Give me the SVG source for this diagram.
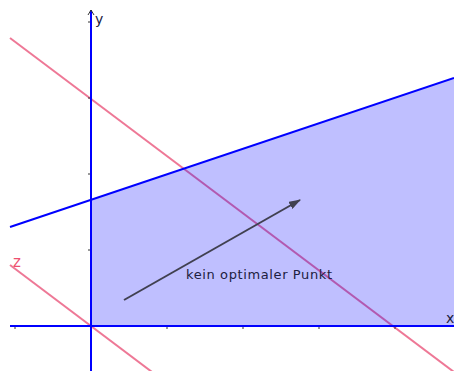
<svg xmlns="http://www.w3.org/2000/svg" width="454" height="371" viewBox="0 0 454 371">
<defs>
<marker id="ah" markerWidth="12" markerHeight="8" refX="11" refY="4" orient="auto" markerUnits="userSpaceOnUse">
<path d="M0,0 L12,4 L0,8 Z" fill="#404050"/>
</marker>
</defs>
<style>
.pink{stroke:#ee7896;stroke-width:2;fill:none}
.blue{stroke:#0000ff;stroke-width:2;fill:none}
.tick{stroke:#333;stroke-width:1}
.lbl{font-family:"DejaVu Sans",sans-serif;font-size:13px;fill:#202040}
</style>
<rect width="454" height="371" fill="#ffffff"/>
<g id="connectors">
<line id="z-line-1" class="pink" x1="10" y1="38" x2="454" y2="372"/>
<line id="z-line-0" class="pink" x1="10" y1="265" x2="152" y2="372"/>
<polygon id="feasible" points="91,326 91,200 454,78 454,326" fill="#0000ff" fill-opacity="0.25"/>
<line id="constraint" class="blue" x1="10" y1="227" x2="454" y2="78"/>
<g id="ticks">
<line class="tick" x1="15" y1="326" x2="15" y2="329"/>
<line class="tick" x1="167" y1="326" x2="167" y2="329"/>
<line class="tick" x1="243" y1="326" x2="243" y2="329"/>
<line class="tick" x1="319" y1="326" x2="319" y2="329"/>
<line class="tick" x1="395" y1="326" x2="395" y2="329"/>
<line class="tick" x1="88" y1="250" x2="91" y2="250"/>
<line class="tick" x1="88" y1="174" x2="91" y2="174"/>
<line class="tick" x1="88" y1="98" x2="91" y2="98"/>
<line class="tick" x1="88" y1="22" x2="91" y2="22"/>
</g>
<line id="x-axis" class="blue" x1="10" y1="326" x2="454" y2="326"/>
<line id="y-axis" class="blue" x1="91" y1="10" x2="91" y2="371"/>
<path d="M88,15 L91,10 L94,15" fill="none" stroke="#333" stroke-width="1"/>
<line id="direction" x1="124" y1="300" x2="300" y2="200" stroke="#404050" stroke-width="2" marker-end="url(#ah)"/>
</g>
<g id="labels">
<text class="lbl" x="95" y="24" style="font-size:14px">y</text>
<text class="lbl" x="446" y="323" style="font-size:14px">x</text>
<text x="13" y="267" style="font-family:'DejaVu Sans',sans-serif;font-size:15px;fill:#ee5070">z</text>
<text class="lbl" x="186" y="279" textLength="146" lengthAdjust="spacing">kein optimaler Punkt</text>
</g>
</svg>
